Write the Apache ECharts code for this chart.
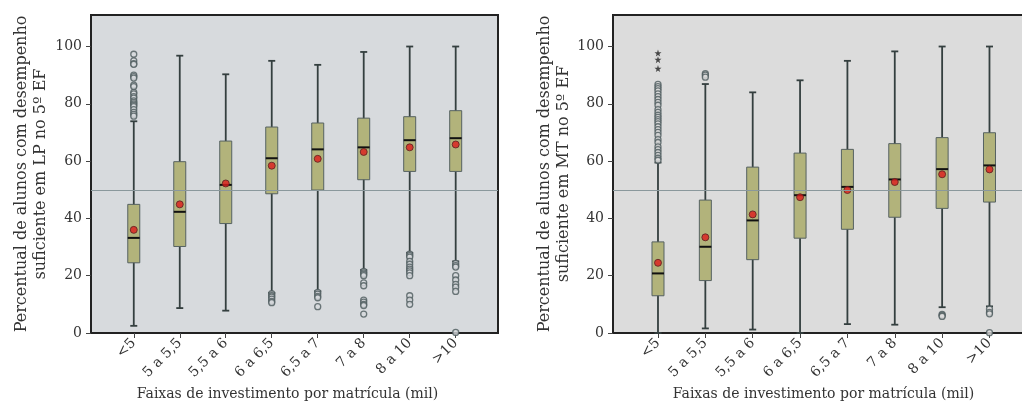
<!DOCTYPE html>
<html>
<head>
<meta charset="utf-8">
<script src="https://cdn.jsdelivr.net/npm/echarts@6/dist/echarts.min.js"></script>
<style>
html,body{margin:0;padding:0;background:#fff;}
#c{width:1022px;height:402px;}
</style>
</head>
<body>
<div id="c"></div>
<script>
// ---- Data ----
const categories = ['<5', '5 a 5,5', '5,5 a 6', '6 a 6,5', '6,5 a 7', '7 a 8', '8 a 10', '>10'];
const yTicks = [0, 20, 40, 60, 80, 100];
const refValue = 50;

// LP: [min, Q1, median, Q3, max]
const lpBoxes = [
  [2.5, 24.5, 33.2, 44.9, 73.9],
  [8.7, 30.2, 42.3, 59.8, 96.8],
  [7.8, 38.2, 51.7, 67.0, 90.3],
  [14.0, 48.6, 61.0, 71.9, 95.0],
  [14.6, 49.9, 64.1, 73.3, 93.6],
  [22.0, 53.5, 64.8, 75.0, 98.1],
  [28.0, 56.4, 67.3, 75.5, 100],
  [25.0, 56.4, 68.0, 77.6, 100]
];
const lpMeans = [36.0, 44.9, 52.2, 58.4, 60.8, 63.2, 64.8, 65.8];
const lpOutliers = [
  [97.3, 95, 94, 93.8, 90, 89.5, 89, 86.5, 86, 84, 83.5, 82.5, 82, 81, 80.5, 80, 79.5, 79, 78, 77, 76.3, 75.7],
  [],
  [],
  [13.7, 13, 12.5, 11.8, 11, 10.6],
  [14.2, 13.6, 12.8, 12.3, 9.2],
  [21.5, 21, 20.5, 20, 17.5, 16.5, 11.5, 10.8, 10, 9.6, 6.6],
  [27.5, 27, 26.5, 25, 24, 23, 22.3, 21.7, 21, 20, 13, 11.5, 10],
  [24.3, 23.5, 23, 20, 18.5, 17, 16, 14.5, 0.2]
];

// MT: [min, Q1, median, Q3, max]
const mtBoxes = [
  [0, 13.0, 20.8, 31.8, 59.5],
  [1.6, 18.3, 30.1, 46.4, 86.9],
  [1.2, 25.6, 39.3, 57.9, 84.0],
  [0, 33.1, 48.1, 62.8, 88.2],
  [3.1, 36.2, 51.0, 64.1, 95.0],
  [2.9, 40.4, 53.6, 66.1, 98.3],
  [9.0, 43.5, 57.2, 68.2, 100],
  [9.3, 45.7, 58.5, 69.9, 100]
];
const mtMeans = [24.5, 33.4, 41.4, 47.4, 49.9, 52.7, 55.4, 57.1];
const mtOutliers = [
  [86.8, 86, 85.3, 84.5, 83.5, 82.5, 81.5, 80.5, 79.5, 78, 77, 76, 75.3, 74.5, 73.8, 73, 72, 71, 70, 69, 67.5, 66.5, 65, 64, 63, 62, 61, 60.3],
  [90.5, 90, 89.3],
  [],
  [],
  [],
  [],
  [6.5, 6.1, 5.8],
  [8.3, 7.2, 6.7, 0.1]
];
const mtExtremes = [[97.7, 95.4, 92.3], [], [], [], [], [], [], []];

const lpTitle = 'Percentual de alunos com desempenho\nsuficiente em LP no 5º EF';
const mtTitle = 'Percentual de alunos com desempenho\nsuficiente em MT no 5º EF';
const xTitle = 'Faixas de investimento por matrícula (mil)';

// ---- Chart ----
const FONT = '"DejaVu Serif", serif';
const TXT = '#333';
const idx = categories.map((c, i) => i);

function boxData(boxes) { return boxes.map((b, i) => [i].concat(b)); }
function ptData(vals) { return vals.map((v, i) => [i, v]); }
function flatData(lists) {
  const out = [];
  lists.forEach((arr, i) => arr.forEach(v => out.push([i, v])));
  return out;
}

function renderBox(params, api) {
  const x = api.value(0);
  const pMin = api.coord([x, api.value(1)]);
  const pQ1 = api.coord([x, api.value(2)]);
  const pMed = api.coord([x, api.value(3)]);
  const pQ3 = api.coord([x, api.value(4)]);
  const pMax = api.coord([x, api.value(5)]);
  const hw = 6, cap = 3.5;
  const wc = '#343f3f';
  return {
    type: 'group',
    children: [
      { type: 'line', shape: { x1: pMin[0], y1: pMin[1], x2: pMax[0], y2: pMax[1] }, style: { stroke: wc, lineWidth: 1.8 } },
      { type: 'line', shape: { x1: pMin[0] - cap, y1: pMin[1], x2: pMin[0] + cap, y2: pMin[1] }, style: { stroke: wc, lineWidth: 1.8 } },
      { type: 'line', shape: { x1: pMax[0] - cap, y1: pMax[1], x2: pMax[0] + cap, y2: pMax[1] }, style: { stroke: wc, lineWidth: 1.8 } },
      { type: 'rect', shape: { x: pQ3[0] - hw, y: pQ3[1], width: hw * 2, height: pQ1[1] - pQ3[1] }, style: { fill: '#b2b37b', stroke: '#566262', lineWidth: 1 } },
      { type: 'line', shape: { x1: pMed[0] - hw, y1: pMed[1], x2: pMed[0] + hw, y2: pMed[1] }, style: { stroke: '#111', lineWidth: 2 } }
    ]
  };
}

function xAxisCfg(gi, min, max, shift) {
  return {
    type: 'value', gridIndex: gi, min: min, max: max,
    name: xTitle, nameLocation: 'middle', nameGap: 50,
    nameTextStyle: { fontFamily: FONT, fontSize: 14, color: TXT, padding: [0, shift, 0, 0] },
    axisLine: { show: true, onZero: false, lineStyle: { color: '#222', width: 2 } },
    axisTick: { show: true, customValues: idx, length: 5, lineStyle: { color: '#444' } },
    axisLabel: { customValues: idx, rotate: 45, margin: 8, fontFamily: FONT, fontSize: 14, color: TXT,
      formatter: v => categories[Math.round(v)] },
    splitLine: { show: false }
  };
}
function yAxisCfg(gi, title, gap) {
  return {
    type: 'value', gridIndex: gi, min: 0, max: 111,
    name: title, nameLocation: 'middle', nameRotate: 90, nameGap: gap,
    nameTextStyle: { fontFamily: FONT, fontSize: 16, color: TXT, lineHeight: 19, align: 'center' },
    axisLine: { show: true, onZero: false, lineStyle: { color: '#222', width: 2 } },
    axisTick: { show: true, customValues: yTicks, length: 5, lineStyle: { color: '#444' } },
    axisLabel: { customValues: yTicks, margin: 9, fontFamily: FONT, fontSize: 14, color: TXT },
    splitLine: { show: false }
  };
}

function seriesFor(k, boxes, means, outliers, bg) {
  return [
    {
      type: 'custom', xAxisIndex: k, yAxisIndex: k, renderItem: renderBox, data: boxData(boxes), z: 2,
      markLine: { silent: true, symbol: 'none', label: { show: false }, lineStyle: { color: '#8a989c', width: 1, type: 'solid' },
        data: [{ yAxis: refValue }] }
    },
    {
      type: 'scatter', xAxisIndex: k, yAxisIndex: k, data: flatData(outliers), symbol: 'circle', symbolSize: 6, z: 3,
      itemStyle: { color: bg, borderColor: '#4c5a5c', borderWidth: 1.3 }
    },
    {
      type: 'scatter', xAxisIndex: k, yAxisIndex: k, data: ptData(means), symbol: 'circle', symbolSize: 7, z: 4,
      itemStyle: { color: '#dd1c1c', borderColor: '#5a2020', borderWidth: 1 }
    }
  ];
}

const BG1 = '#d7dadd', BG2 = '#dcdcdc';
const chart = echarts.init(document.getElementById('c'), null, { renderer: 'canvas' });
const option = {
  animation: false,
  backgroundColor: '#ffffff',
  grid: [
    { left: 91, top: 15, width: 407, height: 318, outerBoundsMode: 'none', containLabel: false, show: true, backgroundColor: BG1, borderColor: '#222', borderWidth: 2 },
    { left: 613, top: 15, width: 421, height: 318, outerBoundsMode: 'none', containLabel: false, show: true, backgroundColor: BG2, borderColor: '#222', borderWidth: 2 }
  ],
  xAxis: [xAxisCfg(0, -0.93, 7.92, 14), xAxisCfg(1, -0.95, 7.94, 0)],
  yAxis: [yAxisCfg(0, lpTitle, 41), yAxisCfg(1, mtTitle, 40)],
  series: [].concat(
    seriesFor(0, lpBoxes, lpMeans, lpOutliers, BG1),
    seriesFor(1, mtBoxes, mtMeans, mtOutliers, BG2),
    [{
      type: 'scatter', xAxisIndex: 1, yAxisIndex: 1, data: flatData(mtExtremes), z: 3,
      symbol: 'path://M0,-10 L2.35,-3.24 L9.51,-3.09 L3.8,1.24 L5.88,8.09 L0,4 L-5.88,8.09 L-3.8,1.24 L-9.51,-3.09 L-2.35,-3.24 Z',
      symbolSize: 7, itemStyle: { color: '#222' }
    }]
  )
};
chart.setOption(option);
</script>
</body>
</html>
